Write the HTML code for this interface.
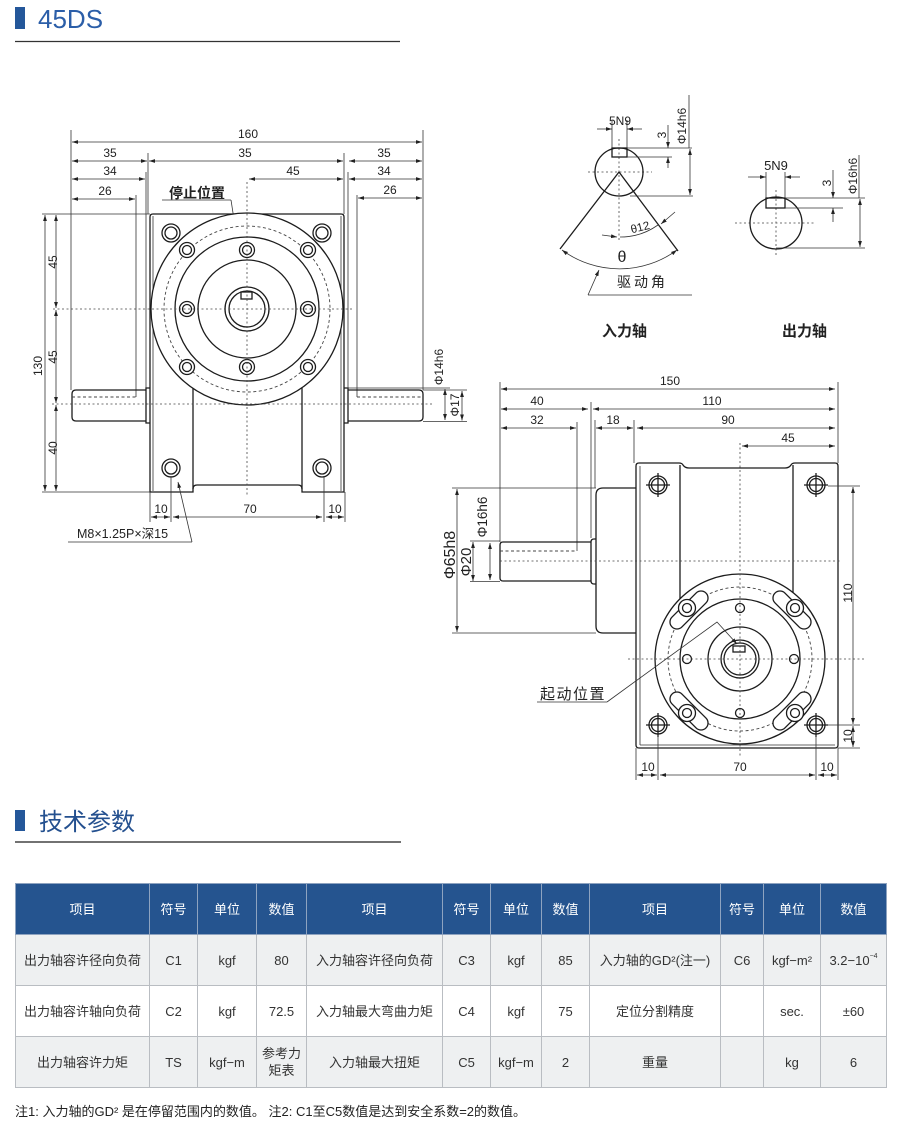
<!DOCTYPE html>
<html><head><meta charset="utf-8"><style>
html,body{margin:0;padding:0;background:#fff;}
body{width:900px;height:1136px;position:relative;overflow:hidden;font-family:"Liberation Sans","Noto Sans CJK SC",sans-serif;}
svg{position:absolute;left:0;top:0;}
.s{fill:none;stroke:#1c1c1c;stroke-width:1.3;}
.t{fill:none;stroke:#333;stroke-width:0.8;}
.c{fill:none;stroke:#444;stroke-width:0.8;stroke-dasharray:2 2.5;}
.dc{fill:none;stroke:#444;stroke-width:0.9;stroke-dasharray:3 2.5;}
.d{fill:none;stroke:#333;stroke-width:0.8;marker-start:url(#a);marker-end:url(#a);}
.e{fill:none;stroke:#333;stroke-width:0.8;marker-end:url(#a);}
.w{fill:#fff;}
text{font-family:"Liberation Sans","Noto Sans CJK SC",sans-serif;fill:#222;}
.n{font-size:12px;text-anchor:middle;}
.cj{font-family:"Liberation Sans","Noto Sans CJK SC",sans-serif;}
table{position:absolute;left:15px;top:883px;width:871px;border-collapse:collapse;table-layout:fixed;}
td,th{border:1px solid #b9bdc2;text-align:center;vertical-align:middle;font-size:13px;color:#333;height:50px;padding:0;line-height:17px;font-weight:normal;}
th{background:#25548f;color:#fff;border-color:#8ea3c0;}
tr.g td{background:#eef0f1;}
sup{font-size:7px;vertical-align:7px;line-height:0;}
</style></head><body>
<svg width="900" height="1136" viewBox="0 0 900 1136">
<defs>
<marker id="a" viewBox="0 0 10 10" refX="10" refY="5" markerWidth="6" markerHeight="6" markerUnits="userSpaceOnUse" orient="auto-start-reverse"><path d="M0,1.8 L10,5 L0,8.2z" fill="#222"/></marker>
</defs>

<!-- Title 45DS -->
<rect x="15" y="7" width="10" height="22" fill="#24579a"/>
<text x="38" y="28" style="font-size:26px;fill:#2b5ea8;">45DS</text>
<line x1="15" y1="41.5" x2="400" y2="41.5" stroke="#333" stroke-width="1.2"/>

<!-- ================= FRONT VIEW ================= -->
<!-- extension lines top -->
<line class="t" x1="71" y1="130" x2="71" y2="390"/>
<line class="t" x1="423" y1="130" x2="423" y2="390"/>
<line class="t" x1="148" y1="153" x2="148" y2="214"/>
<line class="t" x1="146" y1="172" x2="146" y2="388"/>
<line class="t" x1="136" y1="195" x2="136" y2="397"/>
<line class="t" x1="344" y1="153" x2="344" y2="214"/>
<line class="t" x1="348" y1="172" x2="348" y2="388"/>
<line class="t" x1="357" y1="195" x2="357" y2="397"/>
<!-- dims top -->
<line class="d" x1="72" y1="142" x2="422" y2="142"/><text class="n" x="248" y="138">160</text>
<line class="d" x1="72" y1="161" x2="147" y2="161"/><text class="n" x="110" y="157">35</text>
<line class="d" x1="149" y1="161" x2="343" y2="161"/><text class="n" x="245" y="157">35</text>
<line class="d" x1="349" y1="161" x2="422" y2="161"/><text class="n" x="384" y="157">35</text>
<line class="d" x1="72" y1="179" x2="145" y2="179"/><text class="n" x="110" y="175">34</text>
<line class="d" x1="249" y1="179" x2="343" y2="179"/><text class="n" x="293" y="175">45</text>
<line class="d" x1="349" y1="179" x2="422" y2="179"/><text class="n" x="384" y="175">34</text>
<line class="d" x1="72" y1="199" x2="135" y2="199"/><text class="n" x="105" y="195">26</text>
<line class="d" x1="358" y1="198" x2="422" y2="198"/><text class="n" x="390" y="194">26</text>
<!-- 停止位置 -->
<text x="169" y="198" style="font-size:14px;font-weight:bold;">停止位置</text>
<line class="t" x1="162" y1="200" x2="231" y2="200"/>
<line class="e" x1="231" y1="200" x2="245" y2="290"/>

<!-- body -->
<path class="s" d="M150,217 Q150,214 153,214 L341,214 Q344,214 344,217 L344,492 L302,492 L302,489 Q302,485 298,485 L197,485 Q193,485 193,489 L193,492 L150,492 Z"/>
<line class="t" x1="153" y1="216" x2="153" y2="491"/>
<line class="t" x1="341" y1="216" x2="341" y2="491"/>
<line class="s" x1="193" y1="388" x2="193" y2="489"/>
<line class="s" x1="302" y1="388" x2="302" y2="489"/>
<!-- shafts -->
<path class="s" d="M146,390 L76,390 Q72,390 72,394 L72,417 Q72,421 76,421 L146,421"/>
<path class="s" d="M150,388 L146,388 L146,423 L150,423"/>
<line class="dc" x1="72" y1="397" x2="136" y2="397"/>
<path class="s" d="M344,388 L348,388 L348,423 L344,423"/>
<path class="s" d="M348,390 L419,390 Q423,390 423,394 L423,417 Q423,421 419,421 L348,421"/>
<line class="dc" x1="357" y1="397" x2="423" y2="397"/>
<!-- circles -->
<circle class="s w" cx="247" cy="309" r="96"/>
<circle class="dc" cx="247" cy="309" r="83"/>
<circle class="s" cx="247" cy="309" r="72"/>
<circle class="s" cx="247" cy="309" r="49"/>
<circle class="s" cx="247" cy="309" r="22"/>
<circle class="s" cx="247" cy="309" r="18"/>
<rect class="s" x="241" y="292" width="11" height="7" stroke-width="1"/>
<!-- bolt holes -->
<g class="s w" stroke-width="1.2">
<circle cx="187" cy="250" r="7.5"/><circle cx="247" cy="250" r="7.5"/><circle cx="308" cy="250" r="7.5"/>
<circle cx="187" cy="309" r="7.5"/><circle cx="308" cy="309" r="7.5"/>
<circle cx="187" cy="367" r="7.5"/><circle cx="247" cy="367" r="7.5"/><circle cx="308" cy="367" r="7.5"/>
</g>
<g class="s" stroke-width="1">
<circle cx="187" cy="250" r="4.5"/><circle cx="247" cy="250" r="4.5"/><circle cx="308" cy="250" r="4.5"/>
<circle cx="187" cy="309" r="4.5"/><circle cx="308" cy="309" r="4.5"/>
<circle cx="187" cy="367" r="4.5"/><circle cx="247" cy="367" r="4.5"/><circle cx="308" cy="367" r="4.5"/>
</g>
<!-- corner holes -->
<g class="s" stroke-width="1.3">
<circle cx="171" cy="233" r="9"/><circle cx="171" cy="233" r="6"/>
<circle cx="322" cy="233" r="9"/><circle cx="322" cy="233" r="6"/>
<circle cx="171" cy="468" r="9"/><circle cx="171" cy="468" r="6"/>
<circle cx="322" cy="468" r="9"/><circle cx="322" cy="468" r="6"/>
</g>
<!-- center lines -->
<line class="c" x1="53" y1="309" x2="352" y2="309"/>
<line class="c" x1="52" y1="404" x2="433" y2="404"/>
<line class="c" x1="247" y1="182" x2="247" y2="495"/>
<!-- left dims -->
<line class="t" x1="42" y1="214" x2="150" y2="214"/>
<line class="t" x1="42" y1="492" x2="150" y2="492"/>
<line class="d" x1="45" y1="215" x2="45" y2="491"/>
<text class="n" transform="translate(42,366) rotate(-90)">130</text>
<line class="d" x1="56" y1="215" x2="56" y2="308"/>
<line class="d" x1="56" y1="310" x2="56" y2="403"/>
<line class="d" x1="56" y1="405" x2="56" y2="491"/>
<text class="n" transform="translate(57,262) rotate(-90)">45</text>
<text class="n" transform="translate(57,357) rotate(-90)">45</text>
<text class="n" transform="translate(57,448) rotate(-90)">40</text>
<!-- bottom dims -->
<line class="t" x1="150" y1="492" x2="150" y2="522"/>
<line class="t" x1="171" y1="476" x2="171" y2="522"/>
<line class="t" x1="324" y1="476" x2="324" y2="522"/>
<line class="t" x1="345" y1="492" x2="345" y2="522"/>
<line class="d" x1="151" y1="517" x2="170" y2="517"/><text class="n" x="161" y="513">10</text>
<line class="d" x1="173" y1="517" x2="322" y2="517"/><text class="n" x="250" y="513">70</text>
<line class="d" x1="326" y1="517" x2="344" y2="517"/><text class="n" x="335" y="513">10</text>
<!-- M8 -->
<text x="77" y="538" style="font-size:12.5px;">M8×1.25P×深15</text>
<line class="t" x1="68" y1="542" x2="192" y2="542"/>
<line class="e" x1="192" y1="542" x2="178" y2="482"/>
<!-- right Φ dims -->
<line class="t" x1="347" y1="388" x2="450" y2="388"/>
<line class="t" x1="423" y1="390" x2="467" y2="390"/>
<line class="t" x1="423" y1="421.5" x2="467" y2="421.5"/>
<line class="d" x1="445" y1="389" x2="445" y2="420"/>
<line class="d" x1="462" y1="391" x2="462" y2="420.5"/>
<text class="n" transform="translate(443,367) rotate(-90)">Φ14h6</text>
<text class="n" transform="translate(459,405) rotate(-90)">Φ17</text>

<!-- ================= SHAFT DETAILS ================= -->
<!-- input shaft -->
<line class="c" x1="588" y1="172" x2="652" y2="172"/>
<line class="c" x1="619" y1="139" x2="619" y2="242"/>
<circle class="s" cx="619" cy="172" r="24"/>
<rect class="s" x="612" y="148" width="15" height="9" stroke-width="1"/>
<line class="t" x1="612" y1="120" x2="612" y2="148"/>
<line class="t" x1="627" y1="120" x2="627" y2="148"/>
<line class="e" x1="597" y1="129" x2="612" y2="129"/>
<line class="e" x1="642" y1="129" x2="627" y2="129"/>
<text class="n" x="620" y="125">5N9</text>
<line class="t" x1="627" y1="148" x2="692" y2="148"/>
<line class="t" x1="627" y1="157" x2="672" y2="157"/>
<line class="e" x1="668" y1="125" x2="668" y2="148"/>
<line class="e" x1="668" y1="168" x2="668" y2="157"/>
<text class="n" transform="translate(666,135) rotate(-90)">3</text>
<line class="t" x1="689" y1="95" x2="689" y2="148"/>
<line class="d" x1="690" y1="149" x2="690" y2="195"/>
<line class="t" x1="630" y1="196" x2="693" y2="196"/>
<text class="n" transform="translate(686,126) rotate(-90)">Φ14h6</text>
<!-- sector -->
<line class="s" x1="619" y1="172" x2="560" y2="249"/>
<line class="s" x1="619" y1="172" x2="678" y2="251"/>
<path class="d" stroke-width="1" d="M562,250 A97,97 0 0 0 677,250"/>
<text x="622" y="262" style="font-size:16px;text-anchor:middle;">θ</text>
<path class="t" d="M620,237 A65,65 0 0 0 658,225"/>
<line class="e" x1="602" y1="235" x2="617" y2="237"/>
<line class="e" x1="675" y1="212" x2="661" y2="224"/>
<text class="n" transform="translate(641,231) rotate(-14)" style="font-size:11.5px;">θ12</text>
<text x="617" y="287" style="font-size:14px;letter-spacing:3px;">驱动角</text>
<line class="t" x1="588" y1="295" x2="692" y2="295"/>
<line class="e" x1="588" y1="295" x2="599" y2="270"/>
<text x="602" y="336" style="font-size:15px;font-weight:bold;">入力轴</text>
<text x="782" y="336" style="font-size:15px;font-weight:bold;">出力轴</text>
<!-- output shaft -->
<line class="c" x1="735" y1="223" x2="815" y2="223"/>
<line class="c" x1="776" y1="190" x2="776" y2="257"/>
<circle class="s" cx="776" cy="223" r="26"/>
<rect class="s" x="766" y="198" width="19" height="10" stroke-width="1"/>
<line class="t" x1="766" y1="172" x2="766" y2="198"/>
<line class="t" x1="785" y1="172" x2="785" y2="198"/>
<line class="e" x1="748" y1="177" x2="766" y2="177"/>
<line class="e" x1="800" y1="177" x2="785" y2="177"/>
<text class="n" x="776" y="170" style="font-size:13px;">5N9</text>
<line class="t" x1="785" y1="198" x2="865" y2="198"/>
<line class="t" x1="785" y1="208" x2="843" y2="208"/>
<line class="e" x1="833" y1="170" x2="833" y2="198"/>
<line class="e" x1="833" y1="222" x2="833" y2="208"/>
<text class="n" transform="translate(831,183) rotate(-90)">3</text>
<line class="t" x1="859" y1="155" x2="859" y2="198"/>
<line class="d" x1="860" y1="199" x2="860" y2="247"/>
<line class="t" x1="776" y1="248" x2="865" y2="248"/>
<text class="n" transform="translate(857,176) rotate(-90)">Φ16h6</text>

<!-- ================= SIDE VIEW ================= -->
<!-- ext lines top -->
<line class="t" x1="500" y1="382" x2="500" y2="542"/>
<line class="t" x1="838" y1="382" x2="838" y2="463"/>
<line class="t" x1="591" y1="402" x2="591" y2="538"/>
<line class="t" x1="595" y1="420" x2="595" y2="488"/>
<line class="t" x1="634" y1="420" x2="634" y2="463"/>
<line class="t" x1="577" y1="422" x2="577" y2="551"/>
<line class="d" x1="501" y1="389" x2="835" y2="389"/><text class="n" x="670" y="385">150</text>
<line class="d" x1="501" y1="409" x2="588" y2="409"/><text class="n" x="537" y="405">40</text>
<line class="d" x1="593" y1="409" x2="835" y2="409"/><text class="n" x="712" y="405">110</text>
<line class="d" x1="501" y1="428" x2="576" y2="428"/><text class="n" x="537" y="424">32</text>
<line class="d" x1="596" y1="428" x2="633" y2="428"/><text class="n" x="613" y="424">18</text>
<line class="d" x1="637" y1="428" x2="835" y2="428"/><text class="n" x="728" y="424">90</text>
<line class="d" x1="742" y1="446" x2="835" y2="446"/><text class="n" x="788" y="442">45</text>
<!-- body -->
<path class="s" d="M636,466 Q636,463 639,463 L679,463 Q682,463 683,465 Q685,468 689,468 L785,468 Q789,468 791,465 Q792,463 795,463 L835,463 Q838,463 838,466 L838,745 Q838,748 835,748 L639,748 Q636,748 636,745 Z"/>
<line class="t" x1="640" y1="466" x2="640" y2="745"/>
<line class="t" x1="640" y1="745" x2="835" y2="745"/>
<line class="s" x1="680" y1="465" x2="680" y2="599"/>
<line class="s" x1="793" y1="465" x2="793" y2="593"/>
<!-- flange -->
<path class="s" d="M636,488 L603,488 Q596,488 596,495 L596,626 Q596,633 603,633 L636,633"/>
<!-- shaft -->
<path class="s" d="M596,539 L594,539 Q591,539 591,542 L591,581 Q591,584 594,584 L596,584"/>
<path class="s" d="M591,542 L503,542 Q500,542 500,545 L500,578 Q500,581 503,581 L591,581"/>
<line class="dc" x1="500" y1="551" x2="577" y2="551"/>
<line class="c" x1="500" y1="561" x2="842" y2="561"/>
<!-- circles -->
<circle class="s w" cx="740" cy="659" r="85"/>
<circle class="dc" cx="740" cy="659" r="72"/>
<circle class="s" cx="740" cy="659" r="60"/>
<circle class="s" cx="740" cy="659" r="32"/>
<circle class="s" cx="740" cy="659" r="19"/>
<circle class="s" cx="740" cy="659" r="16"/>
<rect class="s" x="733" y="646" width="12" height="6" stroke-width="1"/>
<g class="s" stroke-width="1.1">
<circle cx="740" cy="608" r="4.5"/><circle cx="740" cy="713" r="4.5"/>
<circle cx="687" cy="659" r="4.5"/><circle cx="794" cy="659" r="4.5"/>
</g>
<!-- slots -->
<g class="s w" stroke-width="1.1">
<rect x="-24" y="-7" width="48" height="14" rx="7" transform="translate(689,610) rotate(-45)"/>
<rect x="-24" y="-7" width="48" height="14" rx="7" transform="translate(792,610) rotate(45)"/>
<rect x="-24" y="-7" width="48" height="14" rx="7" transform="translate(689,711) rotate(45)"/>
<rect x="-24" y="-7" width="48" height="14" rx="7" transform="translate(792,711) rotate(-45)"/>
</g>
<g class="s w" stroke-width="1.2">
<circle cx="687" cy="608" r="8.5"/><circle cx="795" cy="608" r="8.5"/>
<circle cx="687" cy="713" r="8.5"/><circle cx="795" cy="713" r="8.5"/>
</g>
<g class="s" stroke-width="1">
<circle cx="687" cy="608" r="4.5"/><circle cx="795" cy="608" r="4.5"/>
<circle cx="687" cy="713" r="4.5"/><circle cx="795" cy="713" r="4.5"/>
</g>
<!-- corner holes -->
<g class="s" stroke-width="1.5">
<circle cx="658" cy="485" r="9"/><circle cx="816" cy="485" r="9"/>
<circle cx="658" cy="725" r="9"/><circle cx="816" cy="725" r="9"/>
</g>
<g class="s" stroke-width="0.9">
<circle cx="658" cy="485" r="6.5"/><circle cx="816" cy="485" r="6.5"/>
<circle cx="658" cy="725" r="6.5"/><circle cx="816" cy="725" r="6.5"/>
<path d="M646,485 H670 M658,473 V497 M804,485 H828 M816,473 V497 M646,725 H670 M658,713 V737 M804,725 H828 M816,713 V737"/>
</g>
<!-- center lines -->
<line class="c" x1="740" y1="443" x2="740" y2="757"/>
<line class="c" x1="628" y1="659" x2="866" y2="659"/>
<!-- right dims -->
<line class="t" x1="828" y1="486" x2="860" y2="486"/>
<line class="t" x1="828" y1="725" x2="860" y2="725"/>
<line class="t" x1="838" y1="748" x2="860" y2="748"/>
<line class="d" x1="853" y1="487" x2="853" y2="724"/>
<line class="d" x1="853" y1="726" x2="853" y2="747"/>
<text class="n" transform="translate(852,593) rotate(-90)">110</text>
<text class="n" transform="translate(852,736) rotate(-90)">10</text>
<!-- bottom dims -->
<line class="t" x1="636" y1="748" x2="636" y2="780"/>
<line class="t" x1="658" y1="735" x2="658" y2="780"/>
<line class="t" x1="816" y1="735" x2="816" y2="780"/>
<line class="t" x1="838" y1="748" x2="838" y2="780"/>
<line class="d" x1="637" y1="775" x2="657" y2="775"/><text class="n" x="648" y="771">10</text>
<line class="d" x1="660" y1="775" x2="815" y2="775"/><text class="n" x="740" y="771">70</text>
<line class="d" x1="818" y1="775" x2="837" y2="775"/><text class="n" x="827" y="771">10</text>
<!-- left dims -->
<line class="t" x1="452" y1="488" x2="596" y2="488"/>
<line class="t" x1="452" y1="633" x2="596" y2="633"/>
<line class="d" x1="457" y1="489" x2="457" y2="632"/>
<text transform="translate(455,555) rotate(-90)" style="font-size:16px;text-anchor:middle;">Φ65h8</text>
<line class="t" x1="470" y1="541" x2="500" y2="541"/>
<line class="t" x1="470" y1="581.5" x2="500" y2="581.5"/>
<line class="d" x1="473" y1="542" x2="473" y2="581"/>
<text transform="translate(471,562) rotate(-90)" style="font-size:15px;text-anchor:middle;">Φ20</text>
<line class="d" x1="490" y1="543" x2="490" y2="580"/>
<text transform="translate(487,517) rotate(-90)" style="font-size:13.5px;text-anchor:middle;">Φ16h6</text>
<!-- 起动位置 -->
<text x="540" y="699" style="font-size:15px;letter-spacing:1.5px;">起动位置</text>
<line class="t" x1="537" y1="702" x2="607" y2="702"/>
<polyline class="e" points="607,702 717,622 737,644"/>

<!-- Title 技术参数 -->
<rect x="15" y="810" width="10" height="21" fill="#24579a"/>
<text x="39" y="830" style="font-size:24px;fill:#24508f;">技术参数</text>
<line x1="15" y1="842" x2="401" y2="842" stroke="#444" stroke-width="1.6"/>

<!-- note -->
<text x="15" y="1116" style="font-size:13px;fill:#222;">注1: 入力轴的GD² 是在停留范围内的数值。  注2: C1至C5数值是达到安全系数=2的数值。</text>
</svg>

<table>
<colgroup>
<col style="width:134px"><col style="width:48px"><col style="width:59px"><col style="width:50px">
<col style="width:136px"><col style="width:48px"><col style="width:51px"><col style="width:48px">
<col style="width:131px"><col style="width:43px"><col style="width:57px"><col style="width:66px">
</colgroup>
<tr><th>项目</th><th>符号</th><th>单位</th><th>数值</th><th>项目</th><th>符号</th><th>单位</th><th>数值</th><th>项目</th><th>符号</th><th>单位</th><th>数值</th></tr>
<tr class="g"><td>出力轴容许径向负荷</td><td>C1</td><td>kgf</td><td>80</td><td>入力轴容许径向负荷</td><td>C3</td><td>kgf</td><td>85</td><td>入力轴的GD²(注一)</td><td>C6</td><td>kgf−m²</td><td>3.2−10<sup>−4</sup></td></tr>
<tr><td>出力轴容许轴向负荷</td><td>C2</td><td>kgf</td><td>72.5</td><td>入力轴最大弯曲力矩</td><td>C4</td><td>kgf</td><td>75</td><td>定位分割精度</td><td></td><td>sec.</td><td>±60</td></tr>
<tr class="g"><td>出力轴容许力矩</td><td>TS</td><td>kgf−m</td><td>参考力<br>矩表</td><td>入力轴最大扭矩</td><td>C5</td><td>kgf−m</td><td>2</td><td>重量</td><td></td><td>kg</td><td>6</td></tr>
</table>
</body></html>
